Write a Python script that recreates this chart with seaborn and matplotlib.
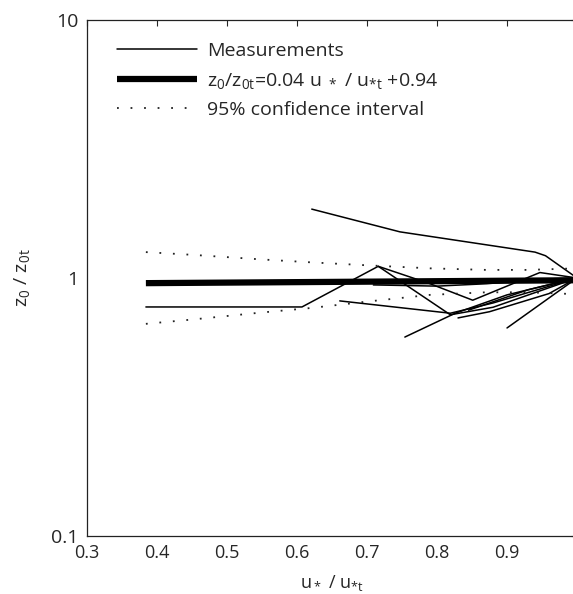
# %% libraries
import matplotlib
matplotlib.use('Agg')
import matplotlib.pyplot as plt
from matplotlib.lines import Line2D
import seaborn as sns
import pandas as pd

# %% data
# measurement series, each normalised to end at (1, 1)
meas_x = [
    [0.621, 0.747, 0.940, 0.955, 1.0],
    [0.384, 0.607, 0.716, 0.819, 0.880, 1.0],
    [0.716, 0.790, 0.851, 0.947, 1.0],
    [0.709, 0.800, 0.871, 0.950, 1.0],
    [0.661, 0.819, 0.880, 1.0],
    [0.754, 0.826, 0.900, 1.0],
    [0.900, 1.0],
    [0.830, 0.875, 0.960, 1.0],
    [0.845, 0.930, 1.0],
]
meas_y = [
    [1.85, 1.51, 1.26, 1.22, 1.0],
    [0.772, 0.772, 1.11, 0.72, 0.77, 1.0],
    [1.11, 0.95, 0.82, 1.05, 1.0],
    [0.94, 0.93, 0.95, 0.99, 1.0],
    [0.815, 0.73, 0.80, 1.0],
    [0.59, 0.73, 0.86, 1.0],
    [0.64, 1.0],
    [0.70, 0.74, 0.87, 1.0],
    [0.75, 0.90, 1.0],
]

# regression line z0/z0t = 0.04 u*/u*t + 0.94
fit_x = [0.384, 1.0]
fit_y = [0.955, 0.98]

# 95% confidence band
ci_x = [0.384, 0.45, 0.55, 0.62, 0.70, 0.79, 0.87, 0.93, 1.0]
ci_up = [1.26, 1.23, 1.18, 1.15, 1.12, 1.09, 1.075, 1.075, 1.09]
ci_lo = [0.664, 0.69, 0.735, 0.765, 0.81, 0.86, 0.88, 0.88, 0.865]

# %% long table for the measurements
rows = []
for i, (xs, ys) in enumerate(zip(meas_x, meas_y)):
    for j, (a, b) in enumerate(zip(xs, ys)):
        rows.append({'id': i, 'order': j, 'x': a, 'y': b})
df = pd.DataFrame(rows)

# %% plot
sns.set_style('white')
plt.rcParams['font.family'] = ['Open Sans', 'DejaVu Sans']
plt.rcParams['mathtext.default'] = 'regular'

fig = plt.figure(figsize=(5.73, 5.94), dpi=100)
ax = fig.add_axes([0.152, 0.098, 0.855, 0.868])

sns.lineplot(data=df, x='x', y='y', units='id', estimator=None, sort=False,
             color='black', lw=1.1, ax=ax)
sns.lineplot(x=fit_x, y=fit_y, color='black', lw=4.5, ax=ax)
ax.lines[-1].set_solid_capstyle('butt')
sns.lineplot(x=ci_x, y=ci_up, color='#222222', lw=1.3, ax=ax)
ax.lines[-1].set_dashes((1, 6.5))
sns.lineplot(x=ci_x, y=ci_lo, color='#222222', lw=1.3, ax=ax)
ax.lines[-1].set_dashes((1, 6.5))

# axes
ax.set_yscale('log')
ax.set_xlim(0.3, 1.0)
ax.set_ylim(0.1, 10)
ax.set_xticks([0.3, 0.4, 0.5, 0.6, 0.7, 0.8, 0.9])
ax.set_xticklabels(['0.3', '0.4', '0.5', '0.6', '0.7', '0.8', '0.9'])
ax.set_yticks([0.1, 1, 10])
ax.set_yticklabels(['0.1', '1', '10'])
ax.tick_params(direction='in', which='both', top=True, right=True,
               labelsize=13, length=4, width=0.8, pad=6)
ax.tick_params(which='minor', length=2.5)
ax.tick_params(axis='y', labelsize=14)
for s in ax.spines.values():
    s.set_linewidth(0.9)
    s.set_color('#222222')

ax.set_xlabel(r'u$_*$ / u$_{*t}$', fontsize=13, labelpad=8)
ax.set_ylabel(r'z$_0$ / z$_{0t}$', fontsize=14, labelpad=14)

# legend
handles = [
    Line2D([], [], color='black', lw=1.1),
    Line2D([], [], color='black', lw=4.5, solid_capstyle='butt'),
    Line2D([], [], color='#222222', lw=1.3, dashes=(1, 6.5)),
]
labels = ['Measurements',
          r'z$_0$/z$_{0t}$=0.04 u $_*$ / u$_{*t}$ +0.94',
          '95% confidence interval']
ax.legend(handles, labels, loc='upper left', bbox_to_anchor=(0.061, 0.958),
          frameon=False, fontsize=14, handlelength=4.1, handletextpad=0.55,
          labelspacing=0.55, borderaxespad=0, borderpad=0)

# save plot
plt.savefig('out.png', dpi=100)
